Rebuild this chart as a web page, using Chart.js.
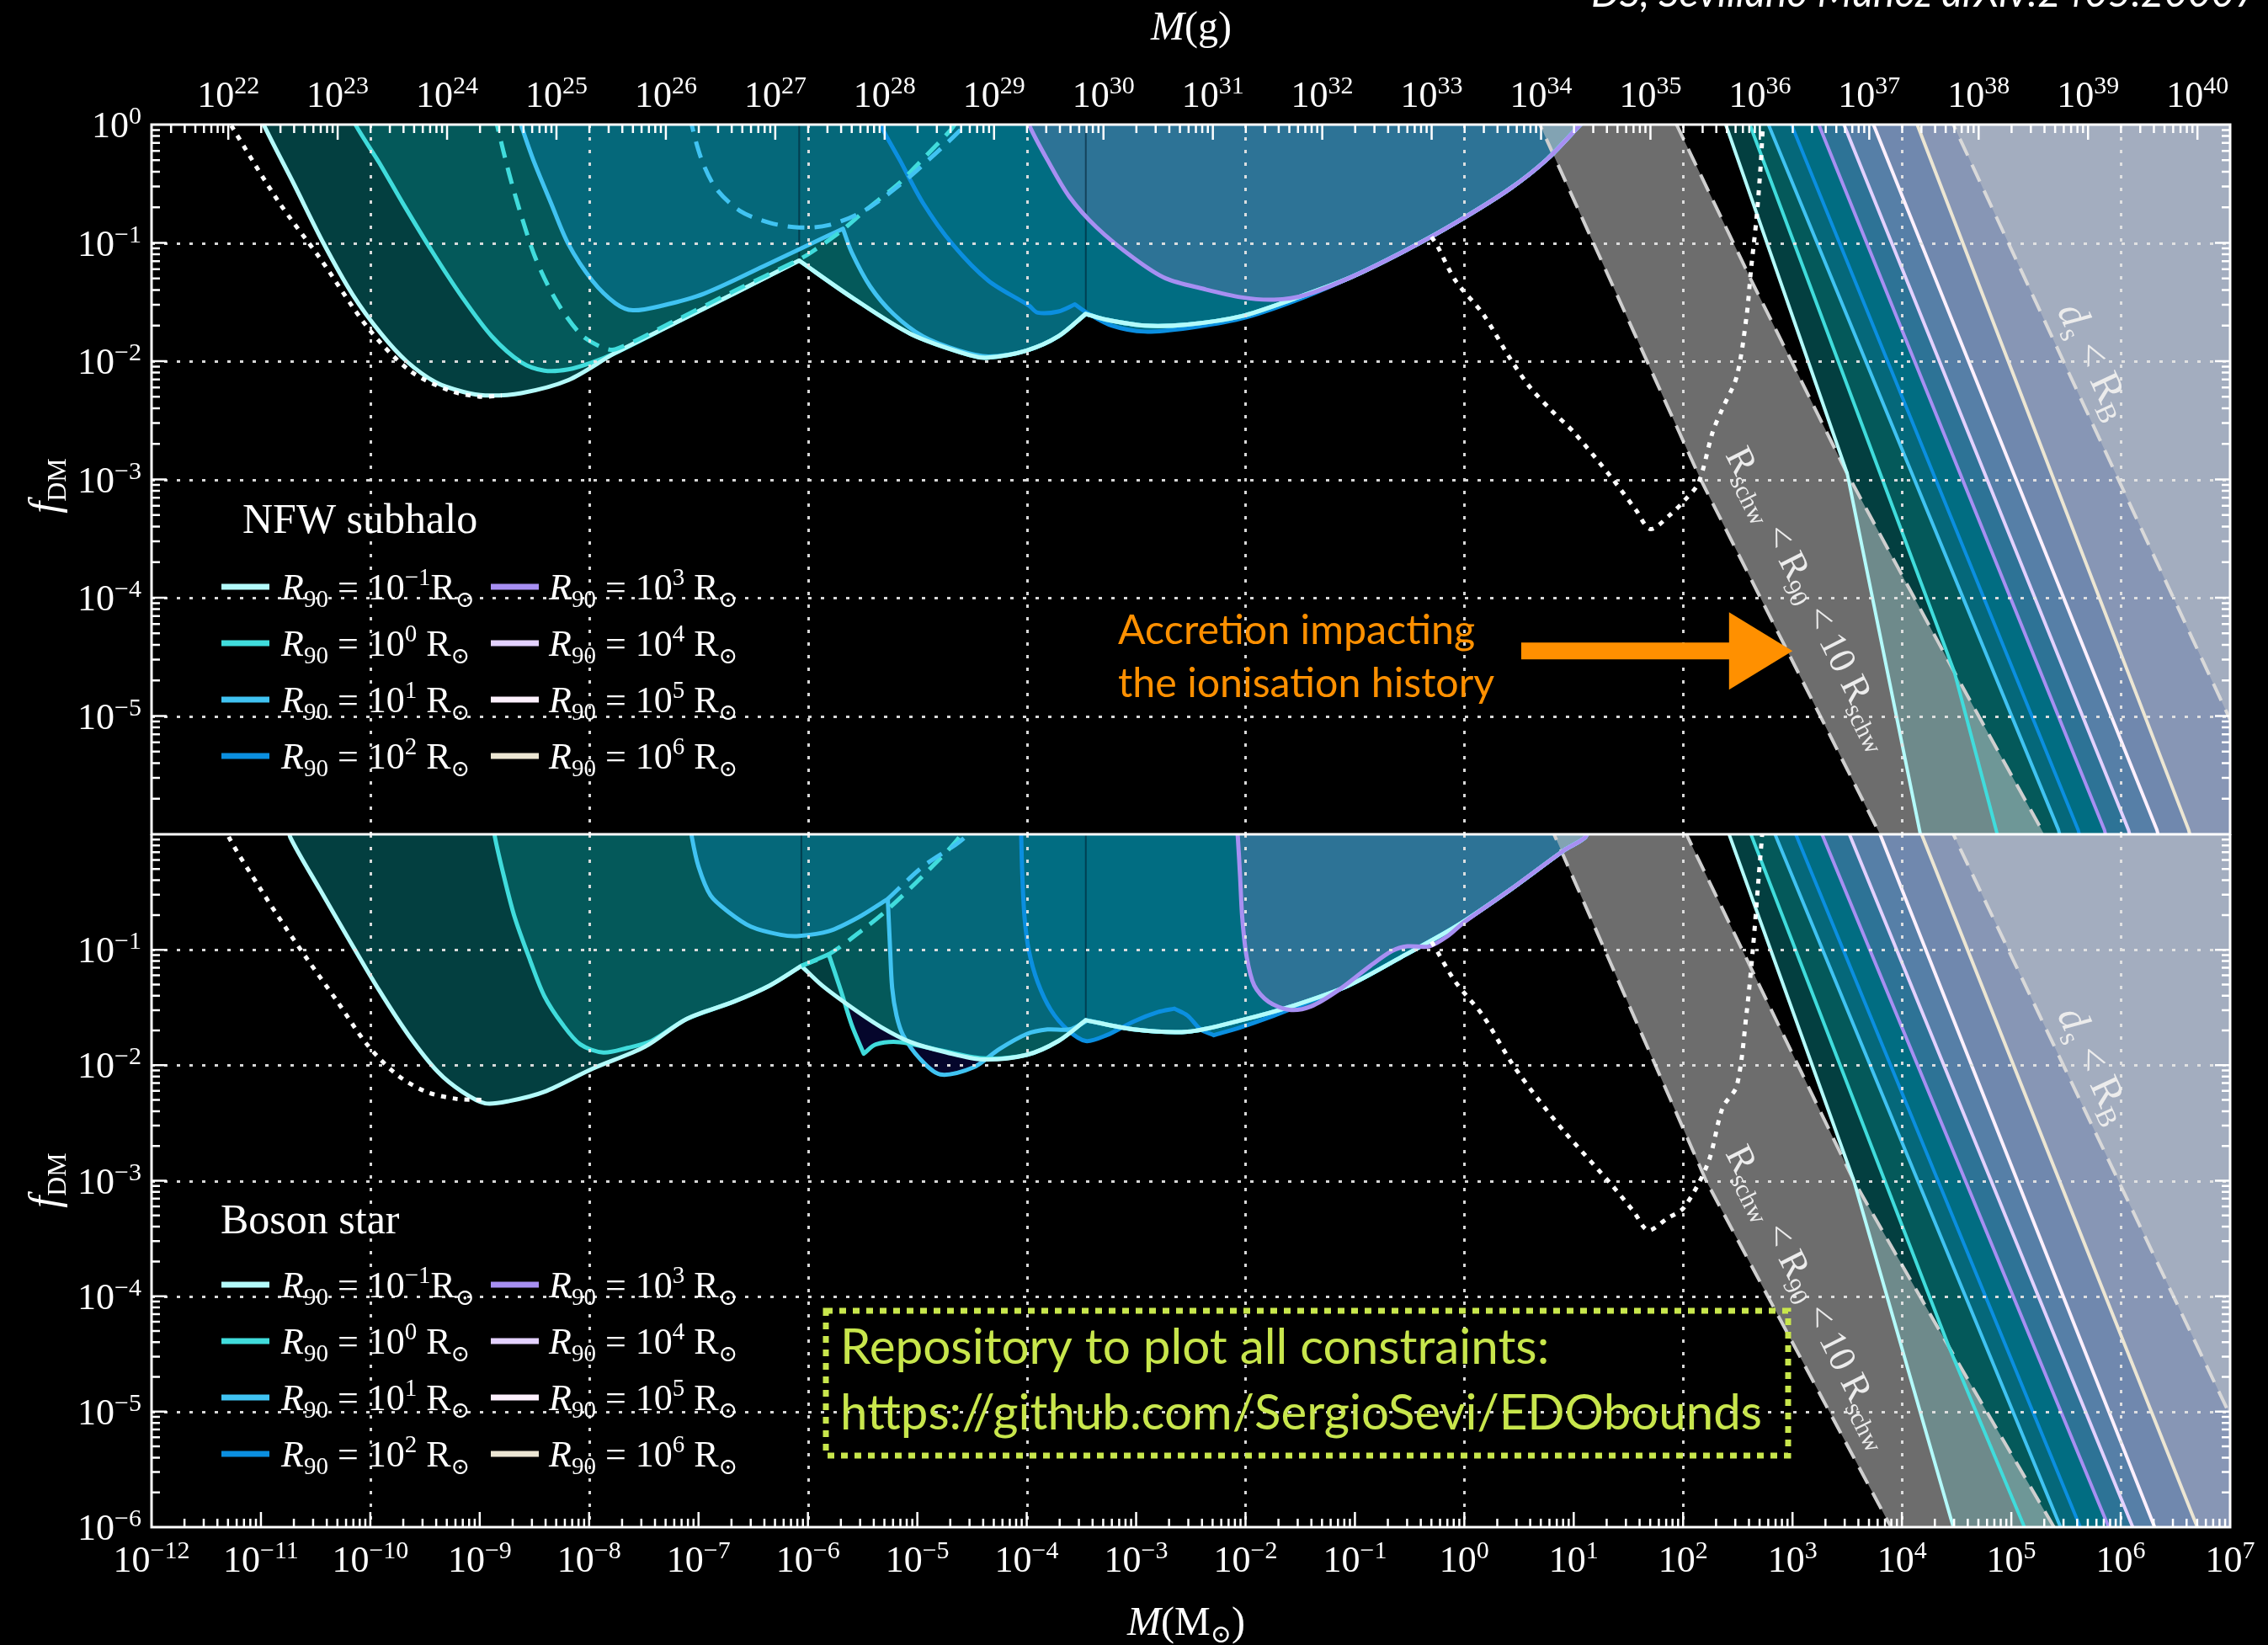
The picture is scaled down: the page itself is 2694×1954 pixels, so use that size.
<!DOCTYPE html>
<html>
<head>
<meta charset="utf-8">
<title>Extended dark matter object bounds</title>
<script src="https://cdn.jsdelivr.net/npm/chart.js@4.4.1/dist/chart.umd.min.js"></script>
<style>
  html, body { margin: 0; padding: 0; background: #000; }
  #page { position: relative; width: 2694px; height: 1954px; overflow: hidden; background: #000; }
  #page canvas { position: absolute; left: 0; }
</style>
</head>
<body>
<div id="page">
  <canvas id="nfw" width="2694" height="992" style="top:0px"></canvas>
  <canvas id="boson" width="2694" height="963" style="top:991px"></canvas>
</div>
<script>
// All curves are [log10 M / M_sun, log10 f_DM] pairs.
// A repeated point marks a sharp corner (cusp) in a smoothed curve.

// ---------- axes ----------
const MSUN_G = 1.989e33;
const massLabelExps = [-12,-11,-10,-9,-8,-7,-6,-5,-4,-3,-2,-1,0,1,2,3,4,5,6,7];
const gramLabelExps = [22,23,24,25,26,27,28,29,30,31,32,33,34,35,36,37,38,39,40];
const fracLabelExpsTop = [0,-1,-2,-3,-4,-5];
const fracLabelExpsBottom = [-1,-2,-3,-4,-5,-6];
const gridMassExps = [-10,-8,-6,-4,-2,0,2,4,6];
const gridFracExps = [-1,-2,-3,-4,-5];
const legendExps = [-1,0,1,2,3,4,5,6];

// ---------- styles (one per R90 = 1e-1 ... 1e6 R_sun) ----------
const lineColors = ['#b3fafa','#40dcdc','#40c3f2','#0b8fe0','#a78ff2','#e3d1ff','#fdf0fd','#ece6d3'];
const fillColors = ['#033f40','#04595a','#05687a','#016d82','#2d7396','#567fa7','#7088ae','#8796b5'];

// ---------- NFW subhalo ----------
const nfwR01Left = [[-11.00,0.08],[-10.97,-0.01],[-10.70,-0.50],[-10.43,-1.00],[-10.16,-1.44],[-9.90,-1.77],[-9.67,-2.00],[-9.40,-2.18],[-9.15,-2.26],[-8.95,-2.29],[-8.62,-2.27],[-8.19,-2.16]];
const nfwR1Left = [[-10.16,0.08],[-10.13,-0.01],[-9.92,-0.32],[-9.70,-0.67],[-9.43,-1.08],[-9.16,-1.46],[-8.89,-1.79],[-8.62,-2.01],[-8.41,-2.08],[-8.19,-2.07],[-7.97,-2.01]];
const nfwRise = [[-7.76,-1.93],[-7.22,-1.68],[-6.68,-1.43],[-6.08,-1.15]];
const nfwDip = [[-6.08,-1.15],[-5.60,-1.46],[-5.06,-1.77],[-4.52,-1.95],[-4.35,-1.97],[-4.00,-1.91],[-3.71,-1.79],[-3.46,-1.60]];
const nfwTail = [[-3.46,-1.60],[-3.27,-1.65],[-2.92,-1.70],[-2.53,-1.69],[-2.04,-1.62],[-1.55,-1.47]];
const nfwArm = [[-1.06,-1.30],[-0.57,-1.08],[-0.08,-0.83],[0.42,-0.54],[0.76,-0.29],[1.06,0.0],[1.12,0.06]];
const nfwR10 = [[-8.65,0.08],[-8.62,-0.01],[-8.51,-0.30],[-8.35,-0.66],[-8.19,-1.01],[-7.97,-1.32],[-7.76,-1.51],[-7.60,-1.57],[-7.33,-1.53],[-6.95,-1.43],[-6.41,-1.20],[-5.98,-1.01],[-5.68,-0.88],[-5.68,-0.88],[-5.60,-1.08],[-5.43,-1.37],[-5.22,-1.60],[-4.95,-1.79],[-4.62,-1.91],[-4.35,-1.96],[-4.00,-1.91],[-3.71,-1.79],[-3.46,-1.60]];
const nfwR100 = [[-5.34,0.08],[-5.33,-0.01],[-5.16,-0.30],[-4.95,-0.66],[-4.68,-1.01],[-4.35,-1.32],[-3.98,-1.53],[-3.90,-1.59],[-3.71,-1.58],[-3.56,-1.52],[-3.56,-1.52],[-3.45,-1.59],[-3.22,-1.70],[-2.92,-1.75],[-2.53,-1.72],[-2.04,-1.64],[-1.55,-1.49]];
const nfwR1e3 = [[-3.99,0.08],[-3.98,0.0],[-3.81,-0.30],[-3.61,-0.61],[-3.36,-0.87],[-3.02,-1.13],[-2.73,-1.30],[-2.38,-1.39],[-2.04,-1.46],[-1.74,-1.48],[-1.45,-1.44]];
const nfwDashR1 = [[-8.86,0.08],[-8.84,-0.01],[-8.73,-0.42],[-8.62,-0.77],[-8.49,-1.13],[-8.30,-1.49],[-8.08,-1.77],[-7.89,-1.88],[-7.76,-1.90],[-7.22,-1.66],[-6.68,-1.41],[-6.08,-1.14],[-5.97,-1.08],[-5.71,-0.91],[-5.48,-0.73],[-5.16,-0.49],[-4.98,-0.32],[-4.69,-0.04],[-4.62,0.06]];
const nfwDashR10 = [[-7.07,0.08],[-7.06,-0.01],[-6.97,-0.30],[-6.84,-0.54],[-6.62,-0.73],[-6.35,-0.83],[-6.08,-0.87],[-5.81,-0.85],[-5.49,-0.73],[-5.16,-0.51],[-4.84,-0.25],[-4.57,-0.01],[-4.54,0.06]];
const nfwSeams = [[[-6.08,0.1],[-6.08,-1.15]], [[-3.46,0.1],[-3.46,-1.60]]];
const nfwDotLeft = [[-11.32,0.08],[-11.27,-0.01],[-10.84,-0.65],[-10.46,-1.13],[-10.02,-1.72],[-9.64,-2.08],[-9.27,-2.25],[-9.00,-2.30],[-8.80,-2.29]];
const nfwDotRight = [[-0.30,-0.95],[-0.25,-1.02],[-0.08,-1.32],[0.17,-1.60],[0.42,-1.98],[0.60,-2.22],[0.80,-2.42],[1.00,-2.60],[1.35,-2.99],[1.57,-3.26],[1.70,-3.42],[1.88,-3.30],[2.01,-3.18],[2.14,-3.03],[2.27,-2.60],[2.36,-2.40],[2.49,-2.13],[2.58,-1.62],[2.62,-1.23],[2.67,-0.80],[2.71,-0.33],[2.73,0.0],[2.74,0.08]];
const nfwBand = [[0.64,0.1],[0.69,0.0],[2.16,-3.0],[3.80,-6.0],[3.85,-6.1],[5.36,-6.1],[5.30,-6.0],[4.48,-4.63],[3.50,-2.95],[2.62,-1.31],[1.94,0.0],[1.90,0.1]];
const nfwDiag = [
  [[2.35,0.1],[2.39,0.0],[3.50,-2.95],[4.16,-5.96],[4.19,-6.1],[8,-6.1]],
  [[2.57,0.1],[2.61,0.0],[4.48,-4.63],[4.86,-5.96],[4.90,-6.1],[8,-6.1]],
  [[2.74,0.1],[2.78,0.0],[5.43,-5.96],[5.47,-6.1],[8,-6.1]],
  [[2.95,0.1],[2.99,0.0],[5.61,-5.96],[5.65,-6.1],[8,-6.1]],
  [[3.20,0.1],[3.24,0.0],[5.85,-5.96],[5.89,-6.1],[8,-6.1]],
  [[3.43,0.1],[3.47,0.0],[6.07,-5.96],[6.11,-6.1],[8,-6.1]],
  [[3.70,0.1],[3.74,0.0],[6.33,-5.96],[6.37,-6.1],[8,-6.1]],
  [[4.10,0.1],[4.14,0.0],[6.62,-5.96],[6.66,-6.1],[8,-6.1]]
];

// ---------- Boson star ----------
const bosR01Left = [[-10.75,0.08],[-10.73,-0.03],[-10.46,-0.48],[-10.19,-0.92],[-9.92,-1.35],[-9.65,-1.74],[-9.38,-2.06],[-9.16,-2.23],[-8.95,-2.33],[-8.73,-2.31],[-8.41,-2.23]];
const bosRise = [[-7.97,-2.03],[-7.49,-1.84],[-7.11,-1.60],[-6.68,-1.45],[-6.35,-1.31],[-6.06,-1.14]];
const bosDip = [[-6.06,-1.14],[-5.87,-1.31],[-5.60,-1.50],[-5.33,-1.67],[-5.06,-1.80],[-4.73,-1.89],[-4.40,-1.95],[-4.00,-1.91],[-3.71,-1.79],[-3.46,-1.61]];
const bosTail = [[-3.46,-1.61],[-3.02,-1.69],[-2.53,-1.71],[-2.04,-1.61],[-1.55,-1.48]];
const bosArm = [[-1.06,-1.31],[-0.57,-1.06],[-0.08,-0.80],[0.42,-0.48],[0.91,-0.14],[1.10,-0.03],[1.15,0.06]];
const bosR1Left = [[-8.87,0.08],[-8.86,-0.03],[-8.78,-0.36],[-8.68,-0.72],[-8.54,-1.09],[-8.41,-1.40],[-8.24,-1.65],[-8.08,-1.82],[-7.87,-1.89],[-7.65,-1.85],[-7.43,-1.79]];
const bosR1Mid = [[-7.11,-1.60],[-6.68,-1.45],[-6.35,-1.31],[-6.06,-1.14],[-6.06,-1.14],[-5.81,-1.04],[-5.81,-1.04],[-5.70,-1.35],[-5.60,-1.65],[-5.49,-1.90],[-5.49,-1.90],[-5.38,-1.82],[-5.16,-1.80],[-4.84,-1.86],[-4.41,-1.94],[-4.00,-1.91],[-3.71,-1.79],[-3.46,-1.61]];
const bosR10 = [[-7.07,0.08],[-7.06,-0.03],[-7.00,-0.28],[-6.89,-0.53],[-6.73,-0.67],[-6.52,-0.80],[-6.25,-0.87],[-6.08,-0.88],[-5.81,-0.84],[-5.54,-0.72],[-5.27,-0.56],[-5.27,-0.56],[-5.25,-0.97],[-5.23,-1.33],[-5.19,-1.57],[-5.13,-1.74],[-4.98,-1.94],[-4.79,-2.08],[-4.49,-2.02],[-4.25,-1.86],[-4.00,-1.73],[-3.81,-1.69],[-3.61,-1.69],[-3.46,-1.62]];
const bosR100 = [[-4.05,0.08],[-4.05,-0.03],[-4.04,-0.36],[-4.02,-0.72],[-3.98,-1.01],[-3.90,-1.28],[-3.78,-1.52],[-3.63,-1.69],[-3.46,-1.79],[-3.27,-1.74],[-3.02,-1.62],[-2.80,-1.54],[-2.65,-1.51],[-2.65,-1.51],[-2.53,-1.57],[-2.41,-1.69],[-2.29,-1.74],[-2.29,-1.74],[-2.04,-1.67],[-1.74,-1.57],[-1.55,-1.50]];
const bosR1e3 = [[-2.08,0.08],[-2.07,-0.03],[-2.05,-0.36],[-2.03,-0.72],[-1.99,-1.06],[-1.92,-1.31],[-1.79,-1.45],[-1.60,-1.52],[-1.40,-1.49],[-1.15,-1.35],[-0.86,-1.14],[-0.66,-1.01],[-0.52,-0.97],[-0.32,-0.97],[-0.15,-0.88],[0.0,-0.76],[0.42,-0.48],[0.91,-0.14],[1.10,-0.03],[1.15,0.06]];
const bosGap = [[-5.66,-1.46],[-5.60,-1.50],[-5.33,-1.67],[-5.06,-1.80],[-4.73,-1.89],[-4.38,-1.95],[-4.49,-2.02],[-4.79,-2.08],[-4.98,-1.94],[-5.10,-1.81],[-5.16,-1.80],[-5.38,-1.82],[-5.49,-1.90],[-5.60,-1.65]];
const bosDashR1 = [[-6.06,-1.14],[-5.81,-1.04],[-5.49,-0.82],[-5.27,-0.65],[-4.95,-0.36],[-4.62,-0.03],[-4.59,0.08]];
const bosDashR10 = [[-5.27,-0.56],[-4.95,-0.28],[-4.57,-0.03],[-4.54,0.08]];
const bosSeams = [[[-6.06,0.1],[-6.06,-1.14]], [[-3.46,0.1],[-3.46,-1.61]]];
const bosDotLeft = [[-11.31,0.08],[-11.29,-0.03],[-11.00,-0.48],[-10.78,-0.80],[-10.57,-1.09],[-10.30,-1.45],[-10.03,-1.82],[-9.76,-2.08],[-9.49,-2.23],[-9.22,-2.29],[-8.97,-2.30]];
const bosDotRight = [[-0.30,-0.93],[-0.25,-1.01],[-0.08,-1.28],[0.17,-1.57],[0.44,-1.99],[0.68,-2.30],[0.91,-2.57],[1.35,-3.04],[1.55,-3.27],[1.68,-3.43],[1.85,-3.33],[2.01,-3.23],[2.23,-2.84],[2.36,-2.37],[2.49,-2.18],[2.58,-1.55],[2.64,-0.97],[2.69,-0.38],[2.72,-0.03],[2.73,0.08]];
const bosBand = [[0.78,0.1],[0.82,0.0],[2.21,-3.0],[3.90,-6.0],[3.95,-6.1],[5.45,-6.1],[5.39,-6.0],[4.43,-4.44],[3.56,-3.0],[2.03,0.0],[1.98,0.1]];
const bosDiag = [
  [[2.38,0.1],[2.42,0.0],[3.56,-3.0],[4.47,-6.0],[4.50,-6.1],[8,-6.1]],
  [[2.58,0.1],[2.62,0.0],[4.43,-4.44],[5.12,-6.0],[5.15,-6.1],[8,-6.1]],
  [[2.80,0.1],[2.84,0.0],[5.45,-6.0],[5.49,-6.1],[8,-6.1]],
  [[2.99,0.1],[3.03,0.0],[5.63,-6.0],[5.67,-6.1],[8,-6.1]],
  [[3.23,0.1],[3.27,0.0],[5.89,-6.0],[5.93,-6.1],[8,-6.1]],
  [[3.48,0.1],[3.52,0.0],[6.11,-6.0],[6.15,-6.1],[8,-6.1]],
  [[3.76,0.1],[3.80,0.0],[6.31,-6.0],[6.35,-6.1],[8,-6.1]],
  [[4.14,0.1],[4.18,0.0],[6.70,-6.0],[6.74,-6.1],[8,-6.1]]
];

// d_s < R_B boundary (same in both panels)
const dsLine = [[4.42,0.1],[4.47,0.0],[7.10,-5.23]];

// ---------- helpers ----------
const toPts = arr => arr.map(([m, f]) => ({x: Math.pow(10, m), y: Math.pow(10, f)}));
function fillSet(arr, color, tension) {
  return {data: toPts(arr), fill: 'end', backgroundColor: color, borderColor: 'rgba(0,0,0,0)', borderWidth: 0, tension, pointRadius: 0, clip: 0};
}
function strokeSet(arr, color, width, dash, tension) {
  return {data: toPts(arr), fill: false, borderColor: color, borderWidth: width, borderDash: dash,
          borderCapStyle: dash.length ? 'butt' : 'round', borderJoinStyle: 'round', tension, pointRadius: 0, clip: 0};
}
function shapeSet(arr, fillColor, edgeColor, width, dash) {
  return {data: toPts(arr), fill: 'shape', backgroundColor: fillColor, borderColor: edgeColor, borderWidth: width,
          borderDash: dash, borderCapStyle: 'butt', tension: 0, pointRadius: 0, clip: 0};
}

function panelDatasets(P) {
  const list = [];
  P.diag.forEach((d, i) => {
    if (P.u[i]) list.push(fillSet(P.u[i], fillColors[i], 0.3));
    list.push(fillSet(d, fillColors[i], 0));
  });
  list.push(fillSet(dsLine, '#a3adbf', 0));
  if (P.gap) list.push(shapeSet(P.gap, '#05062c', 'rgba(0,0,0,0)', 0, []));
  P.seams.forEach(s => list.push(strokeSet(s, 'rgba(0,28,44,0.55)', 2, [], 0)));
  list.push(shapeSet(P.band, 'rgba(205,205,205,0.53)', '#cfcfcf', 4, [22, 12]));
  P.diag.forEach((d, i) => list.push(strokeSet(d, lineColors[i], 4, [], 0)));
  [3, 2, 1, 0, 4].forEach(i => { if (P.u[i]) list.push(strokeSet(P.u[i], lineColors[i], 5, [], 0.3)); });
  list.push(strokeSet(dsLine, '#d9d9d9', 4, [22, 12], 0));
  list.push(strokeSet(P.dashR1, lineColors[1], 5, [20, 12], 0.3));
  list.push(strokeSet(P.dashR10, lineColors[2], 5, [20, 12], 0.3));
  P.dotted.forEach(d => list.push(strokeSet(d, '#ffffff', 5, [6, 8], 0.3)));
  list.forEach((d, i) => { d.order = list.length - i; });
  return list;
}

const nfwPanel = {
  u: [
    [...nfwR01Left, ...nfwRise, ...nfwDip, ...nfwTail, ...nfwArm],
    [...nfwR1Left, ...nfwRise, ...nfwDip, ...nfwTail, ...nfwArm],
    [...nfwR10, ...nfwTail, ...nfwArm],
    [...nfwR100, ...nfwArm],
    [...nfwR1e3, ...nfwArm]
  ],
  diag: nfwDiag, band: nfwBand, seams: nfwSeams,
  dashR1: nfwDashR1, dashR10: nfwDashR10, dotted: [nfwDotLeft, nfwDotRight]
};
const bosPanel = {
  u: [
    [...bosR01Left, ...bosRise, ...bosDip, ...bosTail, ...bosArm],
    [...bosR1Left, ...bosR1Mid, ...bosTail, ...bosArm],
    [...bosR10, ...bosTail, ...bosArm],
    [...bosR100, ...bosArm],
    bosR1e3
  ],
  diag: bosDiag, band: bosBand, seams: bosSeams, gap: bosGap,
  dashR1: bosDashR1, dashR10: bosDashR10, dotted: [bosDotLeft, bosDotRight]
};

// ---------- text drawing ----------
const SERIF = '"Liberation Serif","DejaVu Serif","Times New Roman",serif';
const SANS = 'Lato,"Open Sans","Noto Sans",sans-serif';
const sf = (px, st) => (st ? st + ' ' : '') + px + 'px ' + SERIF;
const expText = e => (e < 0 ? '\u2212' + Math.abs(e) : String(e));
const powParts = e => [{t: '10', f: sf(44)}, {t: expText(e), f: sf(30), dy: -16}];

function richWidth(ctx, parts) {
  let w = 0;
  for (const p of parts) { ctx.font = p.f; w += ctx.measureText(p.t).width; }
  return w;
}
function drawRich(ctx, parts, x, y, align) {
  const w = richWidth(ctx, parts);
  let cx = align === 'center' ? x - w / 2 : align === 'right' ? x - w : x;
  ctx.textAlign = 'left'; ctx.textBaseline = 'alphabetic';
  for (const p of parts) {
    ctx.font = p.f;
    ctx.fillText(p.t, cx, y + (p.dy || 0));
    cx += ctx.measureText(p.t).width;
  }
}
function fitFont(ctx, text, width, family, style) {
  ctx.font = (style || '') + ' 100px ' + family;
  const s = 100 * width / ctx.measureText(text).width;
  return (style || '') + ' ' + s.toFixed(1) + 'px ' + family;
}

const panelText = {
  top: {title: 'NFW subhalo', titleX: 288, titleY: 633, rows: [697, 764, 831, 898], yTitle: 577},
  bottom: {title: 'Boson star', titleX: 262, titleY: 474, rows: [535, 602, 669, 736], yTitle: 411}
};

const decor = {
  id: 'decor',
  afterDatasetsDraw(chart, args, opts) {
    const panel = opts.panel;
    const T = panelText[panel];
    const ctx = chart.ctx, A = chart.chartArea;
    const X = chart.scales.x, Y = chart.scales.y;
    const px = v => X.getPixelForValue(v), py = v => Y.getPixelForValue(v);
    ctx.save();

    // dotted grid
    ctx.strokeStyle = 'rgba(228,228,228,0.95)'; ctx.lineWidth = 3; ctx.setLineDash([4, 11]);
    ctx.beginPath();
    gridMassExps.forEach(e => { const p = Math.round(px(Math.pow(10, e))) + 0.5; ctx.moveTo(p, A.top); ctx.lineTo(p, A.bottom); });
    gridFracExps.forEach(e => { const p = Math.round(py(Math.pow(10, e))) + 0.5; ctx.moveTo(A.left, p); ctx.lineTo(A.right, p); });
    ctx.stroke(); ctx.setLineDash([]);

    // inward tick marks
    ctx.strokeStyle = '#ffffff'; ctx.lineWidth = 2.5; ctx.beginPath();
    for (let e = -6; e <= 0; e++) {
      for (let k = 1; k <= 9; k++) {
        const v = k * Math.pow(10, e);
        if (v > 1.0001) break;
        const p = py(v);
        if (p < A.top + 1 || p > A.bottom - 1) continue;
        const len = k === 1 ? 18 : 10;
        ctx.moveTo(A.left, p); ctx.lineTo(A.left + len, p);
        ctx.moveTo(A.right, p); ctx.lineTo(A.right - len, p);
      }
    }
    if (panel === 'top') {
      const G = chart.scales.xg;
      for (let e = 21; e <= 40; e++) for (let k = 1; k <= 9; k++) {
        const p = G.getPixelForValue(k * Math.pow(10, e));
        if (p < A.left + 1 || p > A.right - 1) continue;
        ctx.moveTo(p, A.top); ctx.lineTo(p, A.top + (k === 1 ? 18 : 10));
      }
    } else {
      for (let e = -12; e <= 7; e++) for (let k = 1; k <= 9; k++) {
        const p = px(k * Math.pow(10, e));
        if (p < A.left + 1 || p > A.right - 1) continue;
        ctx.moveTo(p, A.bottom); ctx.lineTo(p, A.bottom - (k === 1 ? 18 : 10));
      }
    }
    ctx.stroke();

    // frame
    ctx.lineWidth = 3; ctx.strokeStyle = '#ffffff';
    ctx.strokeRect(A.left, A.top, A.right - A.left, A.bottom - A.top);

    // tick labels
    ctx.fillStyle = '#ffffff';
    (panel === 'top' ? fracLabelExpsTop : fracLabelExpsBottom).forEach(e => {
      drawRich(ctx, powParts(e), 168, py(Math.pow(10, e)) + 15, 'right');
    });
    if (panel === 'top') {
      const G = chart.scales.xg;
      gramLabelExps.forEach(e => drawRich(ctx, powParts(e), G.getPixelForValue(Math.pow(10, e)), 127, 'center'));
      drawRich(ctx, [{t: 'M', f: sf(48, 'italic')}, {t: '(g)', f: sf(48)}], 1415, 47, 'center');
    } else {
      massLabelExps.forEach(e => drawRich(ctx, powParts(e), px(Math.pow(10, e)), 876, 'center'));
      drawRich(ctx, [{t: 'M', f: sf(48, 'italic')}, {t: '(M', f: sf(48)}, {t: '\u2299', f: sf(30), dy: 9}, {t: ')', f: sf(48)}], 1409, 951, 'center');
    }

    // f_DM axis title
    ctx.save();
    ctx.translate(57, T.yTitle); ctx.rotate(-Math.PI / 2);
    drawRich(ctx, [{t: 'f', f: sf(50, 'italic')}, {t: 'DM', f: sf(32), dy: 9}], 0, 12, 'center');
    ctx.restore();

    // panel title and legend
    ctx.font = sf(50); ctx.textAlign = 'left'; ctx.fillText(T.title, T.titleX, T.titleY);
    legendExps.forEach((e, i) => {
      const col = i < 4 ? 0 : 1, row = i % 4;
      const y = T.rows[row];
      const lx = col === 0 ? 263 : 583, tx = col === 0 ? 334 : 652;
      ctx.strokeStyle = lineColors[i]; ctx.lineWidth = 7; ctx.lineCap = 'butt';
      ctx.beginPath(); ctx.moveTo(lx, y); ctx.lineTo(lx + 57, y); ctx.stroke();
      ctx.fillStyle = '#ffffff';
      drawRich(ctx, [
        {t: 'R', f: sf(44, 'italic')}, {t: '90', f: sf(29), dy: 9},
        {t: ' = 10', f: sf(44)}, {t: expText(e), f: sf(29), dy: -17},
        {t: e === -1 ? 'R' : ' R', f: sf(44)}, {t: '\u2299', f: sf(27), dy: 9}
      ], tx, y + 15, 'left');
    });

    // rotated labels inside the right-hand regions
    const rotLabel = (parts, m, f, deg) => {
      ctx.save();
      ctx.translate(px(Math.pow(10, m)), py(Math.pow(10, f)));
      ctx.rotate(deg * Math.PI / 180);
      ctx.fillStyle = '#ececec';
      drawRich(ctx, parts, 0, 15, 'center');
      ctx.restore();
    };
    rotLabel([{t: 'R', f: sf(45)}, {t: 'schw', f: sf(30), dy: 9}, {t: ' < R', f: sf(45)}, {t: '90', f: sf(30), dy: 9},
              {t: ' < 10 R', f: sf(45)}, {t: 'schw', f: sf(30), dy: 9}], 3.17, -4.0, 63.3);
    rotLabel([{t: 'd', f: sf(50, 'italic')}, {t: 's', f: sf(33), dy: 9}, {t: ' < R', f: sf(50)}, {t: 'B', f: sf(33), dy: 9}],
             5.76, -2.0, 65);

    if (panel === 'top') {
      // accretion annotation
      ctx.fillStyle = '#ff9000';
      ctx.font = fitFont(ctx, 'Accretion impacting', 424, SANS);
      ctx.fillText('Accretion impacting', 1328, 765);
      ctx.font = fitFont(ctx, 'the ionisation history', 447, SANS);
      ctx.fillText('the ionisation history', 1328, 828);
      const ay = py(Math.pow(10, -4.45));
      const x0 = px(Math.pow(10, 0.52)), xb = px(Math.pow(10, 2.42)), xt = px(Math.pow(10, 3.00));
      ctx.fillRect(x0, ay - 10, xb - x0 + 2, 20);
      ctx.beginPath(); ctx.moveTo(xb, ay - 46); ctx.lineTo(xt, ay); ctx.lineTo(xb, ay + 46); ctx.closePath(); ctx.fill();
      // citation line at the very top of the page
      ctx.fillStyle = '#ffffff';
      ctx.font = 'italic 48px ' + SANS;
      ctx.fillText('DS, Sevillano Mu\u00f1oz arXiv:2405.20007', 1890, 8);
    } else {
      // repository note
      const c = '#c8e64c';
      ctx.strokeStyle = c; ctx.lineWidth = 7; ctx.setLineDash([8, 8]);
      ctx.strokeRect(981, 566, 1143, 172);
      ctx.setLineDash([]);
      ctx.fillStyle = c;
      ctx.font = fitFont(ctx, 'Repository to plot all constraints:', 842, SANS);
      ctx.fillText('Repository to plot all constraints:', 998, 629);
      ctx.font = fitFont(ctx, 'https://github.com/SergioSevi/EDObounds', 1095, SANS);
      ctx.fillText('https://github.com/SergioSevi/EDObounds', 998, 707);
    }
    ctx.restore();
  }
};

function makeChart(id, panel, P) {
  const top = panel === 'top';
  const hidden = {display: false};
  const scales = {
    x: {type: 'logarithmic', min: 1e-12, max: 1e7, position: 'bottom', display: !top,
        ticks: hidden, grid: hidden, border: hidden, afterFit: s => { s.height = top ? 0 : 140; }},
    y: {type: 'logarithmic', min: 1e-6, max: 1, position: 'left',
        ticks: hidden, grid: hidden, border: hidden, afterFit: s => { s.width = 180; }}
  };
  if (top) {
    scales.xg = {type: 'logarithmic', min: 1e-12 * MSUN_G, max: 1e7 * MSUN_G, position: 'top',
                 ticks: hidden, grid: hidden, border: hidden, afterFit: s => { s.height = 148; }};
  }
  return new Chart(document.getElementById(id), {
    type: 'line',
    data: {datasets: panelDatasets(P)},
    options: {
      responsive: false, animation: false, devicePixelRatio: 1, events: [],
      layout: {padding: {left: 0, right: 45, top: 0, bottom: top ? 1 : 0}},
      elements: {point: {radius: 0}, line: {capBezierPoints: false}},
      plugins: {legend: {display: false}, tooltip: {enabled: false}, decor: {panel}},
      scales
    },
    plugins: [decor]
  });
}

makeChart('nfw', 'top', nfwPanel);
makeChart('boson', 'bottom', bosPanel);
</script>
</body>
</html>
